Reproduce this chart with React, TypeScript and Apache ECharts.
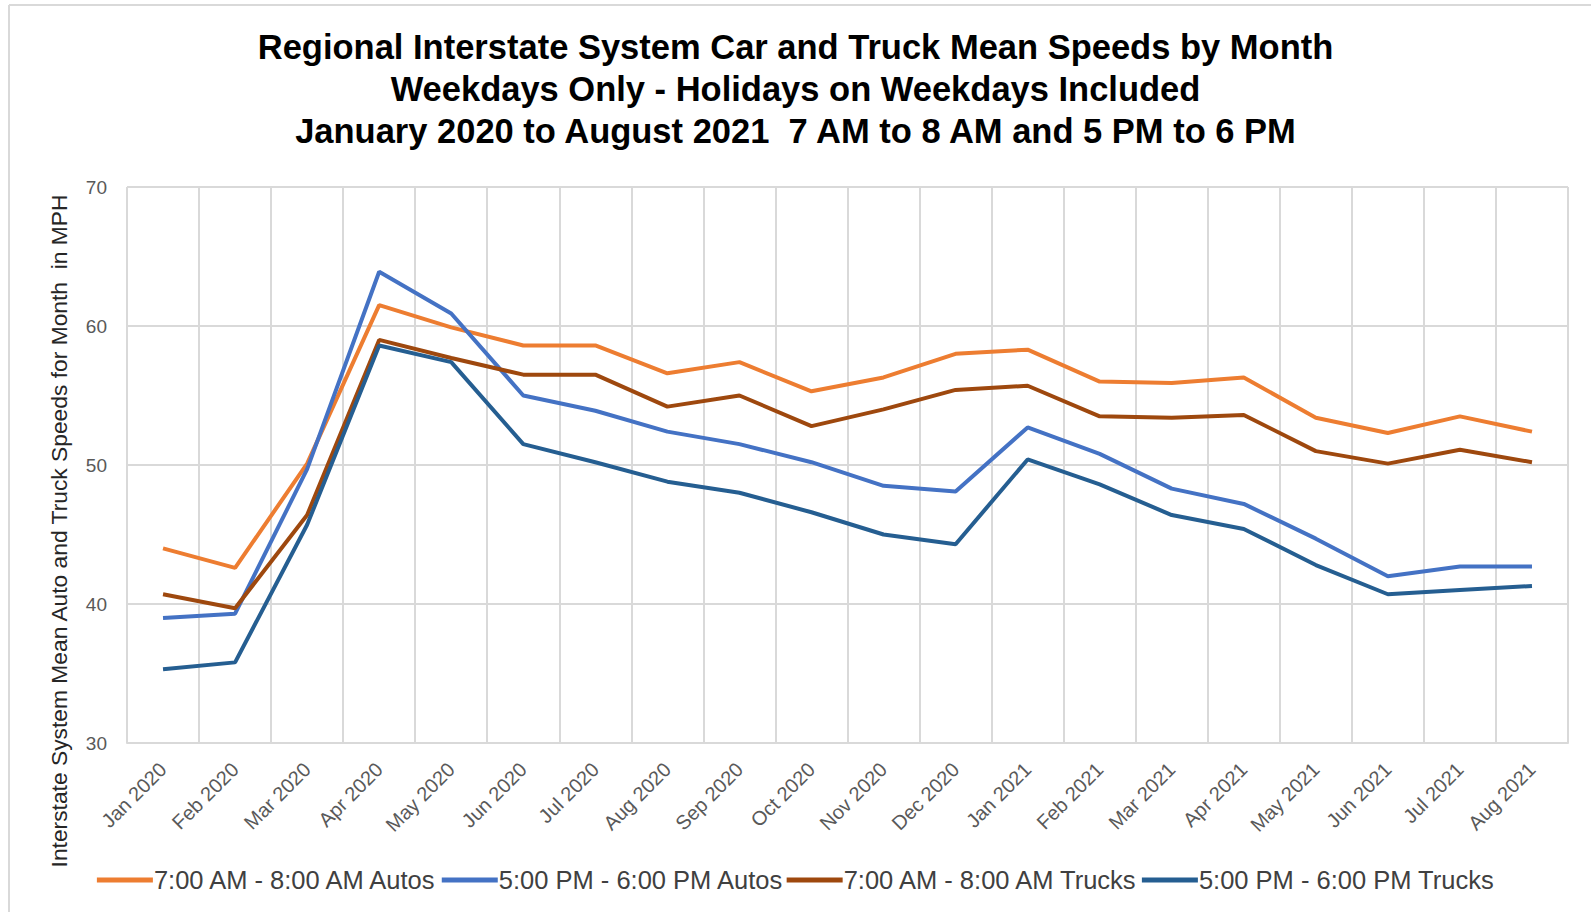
import React, { useEffect, useRef } from "react";
import * as echarts from "echarts";

const months = [
  "Jan 2020", "Feb 2020", "Mar 2020", "Apr 2020", "May 2020", "Jun 2020", "Jul 2020",
  "Aug 2020", "Sep 2020", "Oct 2020", "Nov 2020", "Dec 2020", "Jan 2021", "Feb 2021",
  "Mar 2021", "Apr 2021", "May 2021", "Jun 2021", "Jul 2021", "Aug 2021",
];

const amAutos = [44.0, 42.6, 50.1, 61.5, 59.9, 58.6, 58.6, 56.6, 57.4, 55.3, 56.3, 58.0, 58.3, 56.0, 55.9, 56.3, 53.4, 52.3, 53.5, 52.4];
const pmAutos = [39.0, 39.3, 49.7, 63.9, 60.9, 55.0, 53.9, 52.4, 51.5, 50.2, 48.5, 48.1, 52.7, 50.8, 48.3, 47.2, 44.7, 42.0, 42.7, 42.7];
const amTrucks = [40.7, 39.7, 46.4, 59.0, 57.7, 56.5, 56.5, 54.2, 55.0, 52.8, 54.0, 55.4, 55.7, 53.5, 53.4, 53.6, 51.0, 50.1, 51.1, 50.2];
const pmTrucks = [35.3, 35.8, 45.7, 58.6, 57.4, 51.5, 50.2, 48.8, 48.0, 46.6, 45.0, 44.3, 50.4, 48.6, 46.4, 45.4, 42.8, 40.7, 41.0, 41.3];

const seriesNames = [
  "7:00 AM - 8:00 AM Autos",
  "5:00 PM - 6:00 PM Autos",
  "7:00 AM - 8:00 AM Trucks",
  "5:00 PM - 6:00 PM Trucks",
];
const seriesColors = ["#ED7D31", "#4472C4", "#9E480E", "#255E91"];

const titleLines = [
  "Regional Interstate System Car and Truck Mean Speeds by Month",
  "Weekdays Only - Holidays on Weekdays Included",
  "January 2020 to August 2021  7 AM to 8 AM and 5 PM to 6 PM",
];
const yAxisTitle = "Interstate System Mean Auto and Truck Speeds for Month  in MPH";

export default function App() {
  const ref = useRef<HTMLDivElement>(null);
  useEffect(() => {
    if (!ref.current) return;
    const chart = echarts.init(ref.current, undefined, { renderer: "svg" });
    const data = [amAutos, pmAutos, amTrucks, pmTrucks];
    chart.setOption({
      animation: false,
      backgroundColor: "#ffffff",
      textStyle: { fontFamily: "Liberation Sans, Arial, sans-serif" },
      title: {
        text: titleLines.join("\n"),
        left: "center",
        top: 21,
        textStyle: {
          fontFamily: "Liberation Sans, Arial, sans-serif",
          fontSize: 34.5,
          fontWeight: "bold",
          color: "#000000",
          lineHeight: 42,
        },
      },
      grid: { left: 127, right: 23, top: 187, bottom: 169, containLabel: false },
      xAxis: {
        type: "category",
        data: months,
        boundaryGap: true,
        axisLine: { show: true, lineStyle: { color: "#D9D9D9", width: 2 } },
        axisTick: { show: false },
        splitLine: { show: true, lineStyle: { color: "#D9D9D9", width: 2 } },
        axisLabel: {
          rotate: 45,
          interval: 0,
          color: "#595959",
          fontSize: 20,
          margin: 23,
        },
      },
      yAxis: {
        type: "value",
        min: 30,
        max: 70,
        interval: 10,
        axisLine: { show: false },
        axisTick: { show: false },
        splitLine: { show: true, lineStyle: { color: "#D9D9D9", width: 2 } },
        axisLabel: { color: "#595959", fontSize: 19, margin: 20 },
      },
      legend: {
        bottom: 14,
        left: "center",
        itemGap: 3,
        itemWidth: 56,
        itemHeight: 5,
        icon: "rect",
        textStyle: { color: "#404040", fontSize: 25.5, padding: [0, 0, 0, -4] },
        data: seriesNames,
      },
      series: seriesNames.map((n, i) => ({
        name: n,
        type: "line",
        data: data[i],
        showSymbol: false,
        symbol: "none",
        lineStyle: { color: seriesColors[i], width: 4 },
        itemStyle: { color: seriesColors[i] },
      })),
      graphic: [
        { type: "line", shape: { x1: 9, y1: 5, x2: 1591, y2: 5 }, style: { stroke: "#D9D9D9", lineWidth: 2 } },
        { type: "line", shape: { x1: 9, y1: 5, x2: 9, y2: 912 }, style: { stroke: "#D9D9D9", lineWidth: 2 } },
        {
          type: "text",
          x: 59,
          y: 531,
          rotation: Math.PI / 2,
          style: {
            text: yAxisTitle,
            fill: "#262626",
            fontSize: 22.8,
            fontFamily: "Liberation Sans, Arial, sans-serif",
            align: "center",
            verticalAlign: "middle",
          },
        },
      ],
    });
    return () => chart.dispose();
  }, []);
  return (
    <div
      ref={ref}
      style={{ position: "fixed", left: 0, top: 0, width: 1591, height: 912, background: "#fff" }}
    />
  );
}
